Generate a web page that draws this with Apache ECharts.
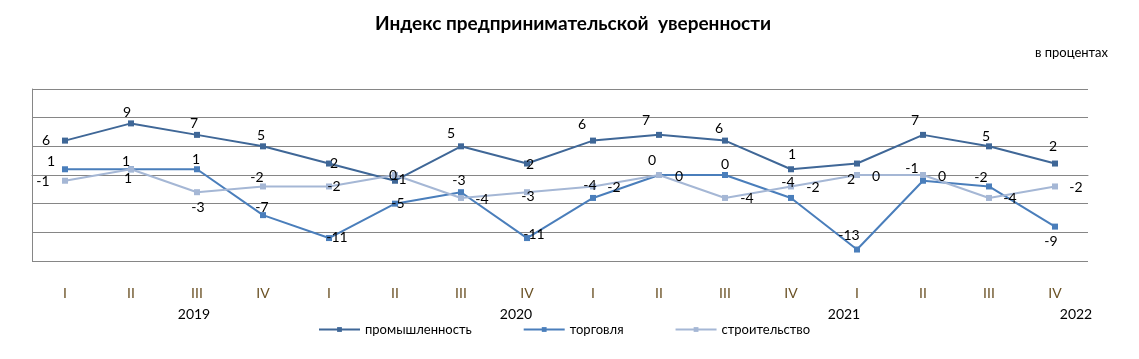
<!DOCTYPE html>
<html>
<head>
<meta charset="utf-8">
<script src="https://cdn.jsdelivr.net/npm/echarts@6/dist/echarts.min.js"></script>
<style>
html,body{margin:0;padding:0;background:#fff;}
#c{width:1139px;height:359px;}
</style>
</head>
<body>
<div id="c"></div>
<script>
// ---- data ----
const quarters = ['I','II','III','IV','I','II','III','IV','I','II','III','IV','I','II','III','IV'];
const yearLabels = ['','','2019','','','','','2020','','','','','2021','','','2022'];
const industry = [6, 9, 7, 5, 2, -1, 5, 2, 6, 7, 6, 1, 2, 7, 5, 2];
const trade = [1, 1, 1, -7, -11, -5, -3, -11, -4, 0, 0, -4, -13, -1, -2, -9];
const construction = [-1, 1, -3, -2, -2, 0, -4, -3, -2, 0, -4, -2, 0, 0, -4, -2];
const seriesNames = ['промышленность', 'торговля', 'строительство'];

// ---- layout: label nudges (px, relative to point) ----
const industryNudge = [[-19,0],[-4,-11],[-3,-11],[-2,-11],[5,0],[5,-1],[-10,-13],[3,1],[-11,-16],[-13,-14],[-6,-12],[1,-15],[-6,16],[-8,-14],[-3,-10],[-2,-17]];
const tradeNudge = [[-14,-8],[-5,-8],[-1,-10],[-1,-8],[8,-1],[3,0],[-2,-12],[7,-4],[-3,-12],[-7,-15],[0,-11],[-3,-15],[-8,-14],[-11,-12],[-8,-9],[-4,15]];
const constructionNudge = [[-22,1],[-3,9],[1,15],[-6,-9],[5,0],[-2,0],[21,2],[1,4],[21,1],[20,1],[22,1],[22,1],[19,1],[19,1],[21,1],[21,1]];
const yearShift = {2: -3, 7: -11, 12: -13, 15: 21};

const FONT = 'Lato';
const colors = ['#3f6797', '#4a7ebb', '#a5b7d5'];

function mkData(vals, nudges) {
  return vals.map((v, i) => ({
    value: v,
    label: { offset: nudges[i] }
  }));
}

const rich = {};
Object.keys(yearShift).forEach(k => {
  const s = yearShift[k];
  rich['y' + k] = {
    fontFamily: FONT, fontSize: 14, color: '#000',
    padding: s > 0 ? [0, 0, 0, 2 * s] : [0, -2 * s, 0, 0]
  };
});

function mkSeries(name, vals, nudges, color) {
  return {
    name: name,
    type: 'line',
    data: mkData(vals, nudges),
    symbol: 'rect',
    symbolSize: 6,
    lineStyle: { color: color, width: 2 },
    itemStyle: { color: color },
    label: {
      show: true,
      position: 'inside',
      color: '#000',
      fontFamily: FONT,
      fontSize: 14
    },
    emphasis: { disabled: true },
    animation: false
  };
}

const chart = echarts.init(document.getElementById('c'), null, { renderer: 'canvas' });
chart.setOption({
  backgroundColor: '#fff',
  animation: false,
  title: [
    {
      text: 'Индекс предпринимательской  уверенности',
      left: 568, top: 9, textAlign: 'center',
      textStyle: { fontFamily: FONT, fontSize: 19, fontWeight: 'bold', color: '#000' }
    },
    {
      text: 'в процентах',
      right: 26, top: 41,
      textStyle: { fontFamily: FONT, fontSize: 13, fontWeight: 'normal', color: '#000' }
    }
  ],
  legend: {
    bottom: 18,
    left: 313,
    itemWidth: 41,
    itemHeight: 6,
    itemGap: 51,
    textStyle: { fontFamily: FONT, fontSize: 13, color: '#000' },
    data: seriesNames
  },
  grid: { left: 32, right: 51, top: 89, bottom: 98, containLabel: false },
  xAxis: [
    {
      type: 'category',
      data: quarters,
      boundaryGap: true,
      axisLine: { show: true, lineStyle: { color: '#868686' } },
      axisTick: { show: false },
      axisLabel: { margin: 25, fontFamily: FONT, fontSize: 14, color: '#6b5225' }
    },
    {
      type: 'category',
      data: yearLabels,
      position: 'bottom',
      boundaryGap: true,
      axisLine: { show: false },
      axisTick: { show: false },
      axisLabel: {
        margin: 46, interval: 0,
        formatter: (v, i) => v ? '{y' + i + '|' + v + '}' : '',
        rich: rich
      }
    }
  ],
  yAxis: {
    type: 'value',
    min: -15, max: 15, interval: 5,
    axisLine: { show: true, lineStyle: { color: '#868686' } },
    axisTick: { show: false },
    axisLabel: { show: false },
    splitLine: { lineStyle: { color: '#868686', width: 1 } }
  },
  series: [
    mkSeries(seriesNames[0], industry, industryNudge, colors[0]),
    mkSeries(seriesNames[1], trade, tradeNudge, colors[1]),
    mkSeries(seriesNames[2], construction, constructionNudge, colors[2])
  ]
});
</script>
</body>
</html>
